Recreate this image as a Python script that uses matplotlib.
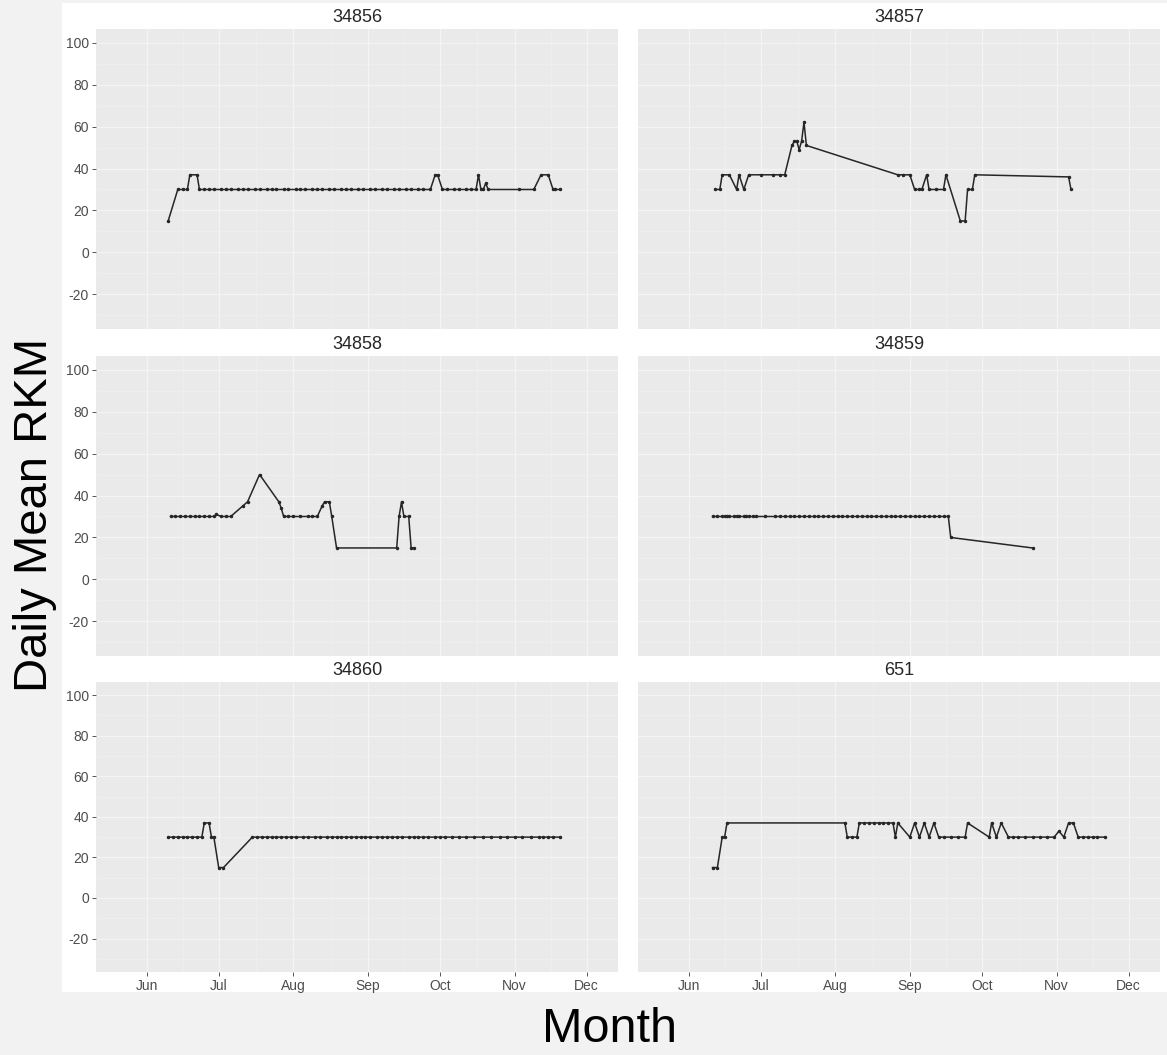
import numpy as np
import matplotlib
matplotlib.use('Agg')
import matplotlib.pyplot as plt
import matplotlib.dates as mdates
from matplotlib.patches import Rectangle
from matplotlib.ticker import FixedLocator

plt.rcParams['font.family'] = ['Liberation Sans', 'DejaVu Sans']

# ---------------- data ----------------
SEASON_START = '2016-06-01'          # day 0 of the day offsets below
tag_ids = ['34856', '34857', '34858', '34859', '34860', '651']
month_labels = ['Jun', 'Jul', 'Aug', 'Sep', 'Oct', 'Nov', 'Dec']
month_starts = ['2016-06-01', '2016-07-01', '2016-08-01', '2016-09-01',
                '2016-10-01', '2016-11-01', '2016-12-01']
rkm_ticks = [-20, 0, 20, 40, 60, 80, 100]
x_range = ['2016-05-11', '2016-12-14']
y_range = [-36.5, 106.5]

# (days since SEASON_START, daily mean RKM)
obs_34856 = [(9, 15), (13, 30), (15, 30), (17, 30), (18, 37), (21, 37), (22, 30),
             (24, 30), (26, 30), (28, 30), (31, 30), (33, 30), (35, 30), (38, 30),
             (40, 30), (42, 30), (45, 30), (47, 30), (50, 30), (52, 30), (54, 30),
             (57, 30), (59, 30), (62, 30), (64, 30), (66, 30), (69, 30), (71, 30),
             (73, 30), (76, 30), (78, 30), (81, 30), (83, 30), (85, 30), (88, 30),
             (90, 30), (93, 30), (95, 30), (98, 30), (100, 30), (103, 30), (105, 30),
             (108, 30), (110, 30), (113, 30), (115, 30), (118, 30), (120, 37),
             (121, 37), (123, 30), (125, 30), (128, 30), (130, 30), (133, 30),
             (135, 30), (137, 30), (138, 37), (139, 30), (140, 30), (141, 33),
             (142, 30), (155, 30), (161, 30), (164, 37), (167, 37), (169, 30),
             (170, 30), (172, 30)]

obs_34857 = [(11, 30), (13, 30), (14, 37), (17, 37), (20, 30), (21, 37), (23, 30),
             (25, 37), (30, 37), (35, 37), (38, 37), (40, 37), (43, 51), (44, 53),
             (45, 53), (46, 49), (47, 53), (48, 62), (49, 51), (87, 37), (89, 37),
             (92, 37), (94, 30), (96, 30), (97, 30), (99, 37), (100, 30), (103, 30),
             (106, 30), (107, 37), (113, 15), (115, 15), (116, 30), (118, 30),
             (119, 37), (158, 36), (159, 30)]

obs_34858 = [(10, 30), (12, 30), (14, 30), (16, 30), (18, 30), (20, 30), (22, 30),
             (24, 30), (26, 30), (28, 30), (29, 31), (31, 30), (33, 30), (35, 30),
             (40, 35), (42, 37), (47, 50), (55, 37), (56, 34), (57, 30), (59, 30),
             (61, 30), (64, 30), (67, 30), (69, 30), (71, 30), (73, 35), (74, 37),
             (76, 37), (77, 30), (79, 15), (104, 15), (105, 30), (106, 37),
             (107, 30), (109, 30), (110, 15), (111, 15)]

obs_34859 = [(10, 30), (12, 30), (14, 30), (15, 30), (16, 30), (17, 30), (19, 30),
             (20, 30), (21, 30), (23, 30), (24, 30), (25, 30), (27, 30), (28, 30),
             (32, 30), (36, 30), (38, 30), (40, 30), (42, 30), (44, 30), (46, 30),
             (48, 30), (50, 30), (52, 30), (54, 30), (56, 30), (58, 30), (60, 30),
             (62, 30), (64, 30), (66, 30), (68, 30), (70, 30), (72, 30), (74, 30),
             (76, 30), (78, 30), (80, 30), (82, 30), (84, 30), (86, 30), (88, 30),
             (90, 30), (92, 30), (94, 30), (96, 30), (98, 30), (100, 30), (102, 30),
             (104, 30), (106, 30), (108, 30), (109, 20), (143, 15)]

obs_34860 = [(9, 30), (11, 30), (13, 30), (15, 30), (17, 30), (19, 30), (21, 30),
             (23, 30), (24, 37), (26, 37), (27, 30), (28, 30), (30, 15), (32, 15),
             (44, 30), (46, 30), (48, 30), (50, 30), (52, 30), (54, 30), (56, 30),
             (58, 30), (60, 30), (62, 30), (65, 30), (67, 30), (70, 30), (72, 30),
             (75, 30), (77, 30), (79, 30), (81, 30), (83, 30), (85, 30), (87, 30),
             (89, 30), (91, 30), (93, 30), (96, 30), (98, 30), (100, 30), (102, 30),
             (104, 30), (106, 30), (109, 30), (111, 30), (113, 30), (115, 30),
             (117, 30), (120, 30), (122, 30), (124, 30), (127, 30), (130, 30),
             (133, 30), (136, 30), (140, 30), (143, 30), (147, 30), (150, 30),
             (153, 30), (156, 30), (160, 30), (163, 30), (165, 30), (167, 30),
             (169, 30), (172, 30)]

obs_651 = [(10, 15), (12, 15), (14, 30), (15, 30), (16, 37), (65, 37), (66, 30),
           (68, 30), (70, 30), (71, 37), (73, 37), (75, 37), (77, 37), (79, 37),
           (81, 37), (83, 37), (85, 37), (86, 30), (87, 37), (92, 30), (94, 37),
           (96, 30), (98, 37), (100, 30), (102, 37), (104, 30), (106, 30),
           (109, 30), (112, 30), (115, 30), (116, 37), (125, 30), (126, 37),
           (128, 30), (130, 37), (133, 30), (135, 30), (137, 30), (140, 30),
           (143, 30), (146, 30), (149, 30), (152, 30), (154, 33), (156, 30),
           (158, 37), (160, 37), (162, 30), (164, 30), (166, 30), (168, 30),
           (170, 30), (173, 30)]

series = [obs_34856, obs_34857, obs_34858, obs_34859, obs_34860, obs_651]

# ---------------- layout ----------------
W, H = 1167, 1055
fig = plt.figure(figsize=(W / 100, H / 100), dpi=100)
fig.patch.set_facecolor('#f2f2f2')
fig.patches.append(Rectangle((62 / W, 1 - 992 / H), (W - 62) / W, (992 - 3) / H,
                             transform=fig.transFigure, facecolor='white',
                             edgecolor='none', zorder=-5))

col_x = [(96, 618), (638, 1160)]
row_y = [(29, 329), (356, 656), (682, 972)]
strip_h = 26

base = np.datetime64(SEASON_START)
majors = mdates.date2num(np.array(month_starts, dtype='datetime64[D]'))
minors = (majors[:-1] + majors[1:]) / 2
xlo, xhi = mdates.date2num(np.array(x_range, dtype='datetime64[D]'))

for i, (tag, obs) in enumerate(zip(tag_ids, series)):
    r, c = divmod(i, 2)
    l, rgt = col_x[c]
    t, b = row_y[r]
    ax = fig.add_axes([l / W, 1 - b / H, (rgt - l) / W, (b - t) / H])
    ax.set_facecolor('#eaeaea')
    for s in ax.spines.values():
        s.set_visible(False)

    days = np.array([d for d, _ in obs])
    vals = np.array([v for _, v in obs])
    dates = base + days.astype('timedelta64[D]')
    ax.plot(dates, vals, color='#262626', lw=1.1, marker='o', ms=1.5,
            mec='#262626', mfc='#262626', zorder=3)

    ax.set_xlim(xlo, xhi)
    ax.set_ylim(*y_range)
    ax.xaxis.set_major_locator(FixedLocator(majors))
    ax.xaxis.set_minor_locator(FixedLocator(minors))
    ax.yaxis.set_major_locator(FixedLocator(rkm_ticks))
    ax.yaxis.set_minor_locator(FixedLocator([-30, -10, 10, 30, 50, 70, 90]))
    ax.grid(which='major', color='#f4f4f4', lw=0.9)
    ax.grid(which='minor', color='#f0f0f0', lw=0.5)
    ax.set_axisbelow(True)
    ax.tick_params(which='minor', length=0)
    ax.tick_params(which='major', length=3, width=0.7, color='#555555',
                   labelsize=10, labelcolor='#4d4d4d', pad=2)
    if c == 0:
        ax.set_yticklabels([str(v) for v in rkm_ticks])
    else:
        ax.tick_params(axis='y', length=0, labelleft=False)
    if r == 2:
        ax.set_xticklabels(month_labels)
    else:
        ax.tick_params(axis='x', length=0, labelbottom=False)

    sax = fig.add_axes([l / W, 1 - t / H, (rgt - l) / W, strip_h / H])
    sax.set_facecolor('white')
    sax.set_xticks([])
    sax.set_yticks([])
    for s in sax.spines.values():
        s.set_visible(False)
    sax.text(0.5, 0.45, tag, ha='center', va='center', fontsize=13,
             color='#262626', transform=sax.transAxes)

fig.text(35 / W, 1 - 515 / H, 'Daily Mean RKM', rotation=90, ha='center',
         va='center', fontsize=34, color='black')
fig.text(610 / W, 1 - 1030 / H, 'Month', ha='center', va='center',
         fontsize=35, color='black')

fig.savefig('out.png', dpi=100, facecolor=fig.get_facecolor())
